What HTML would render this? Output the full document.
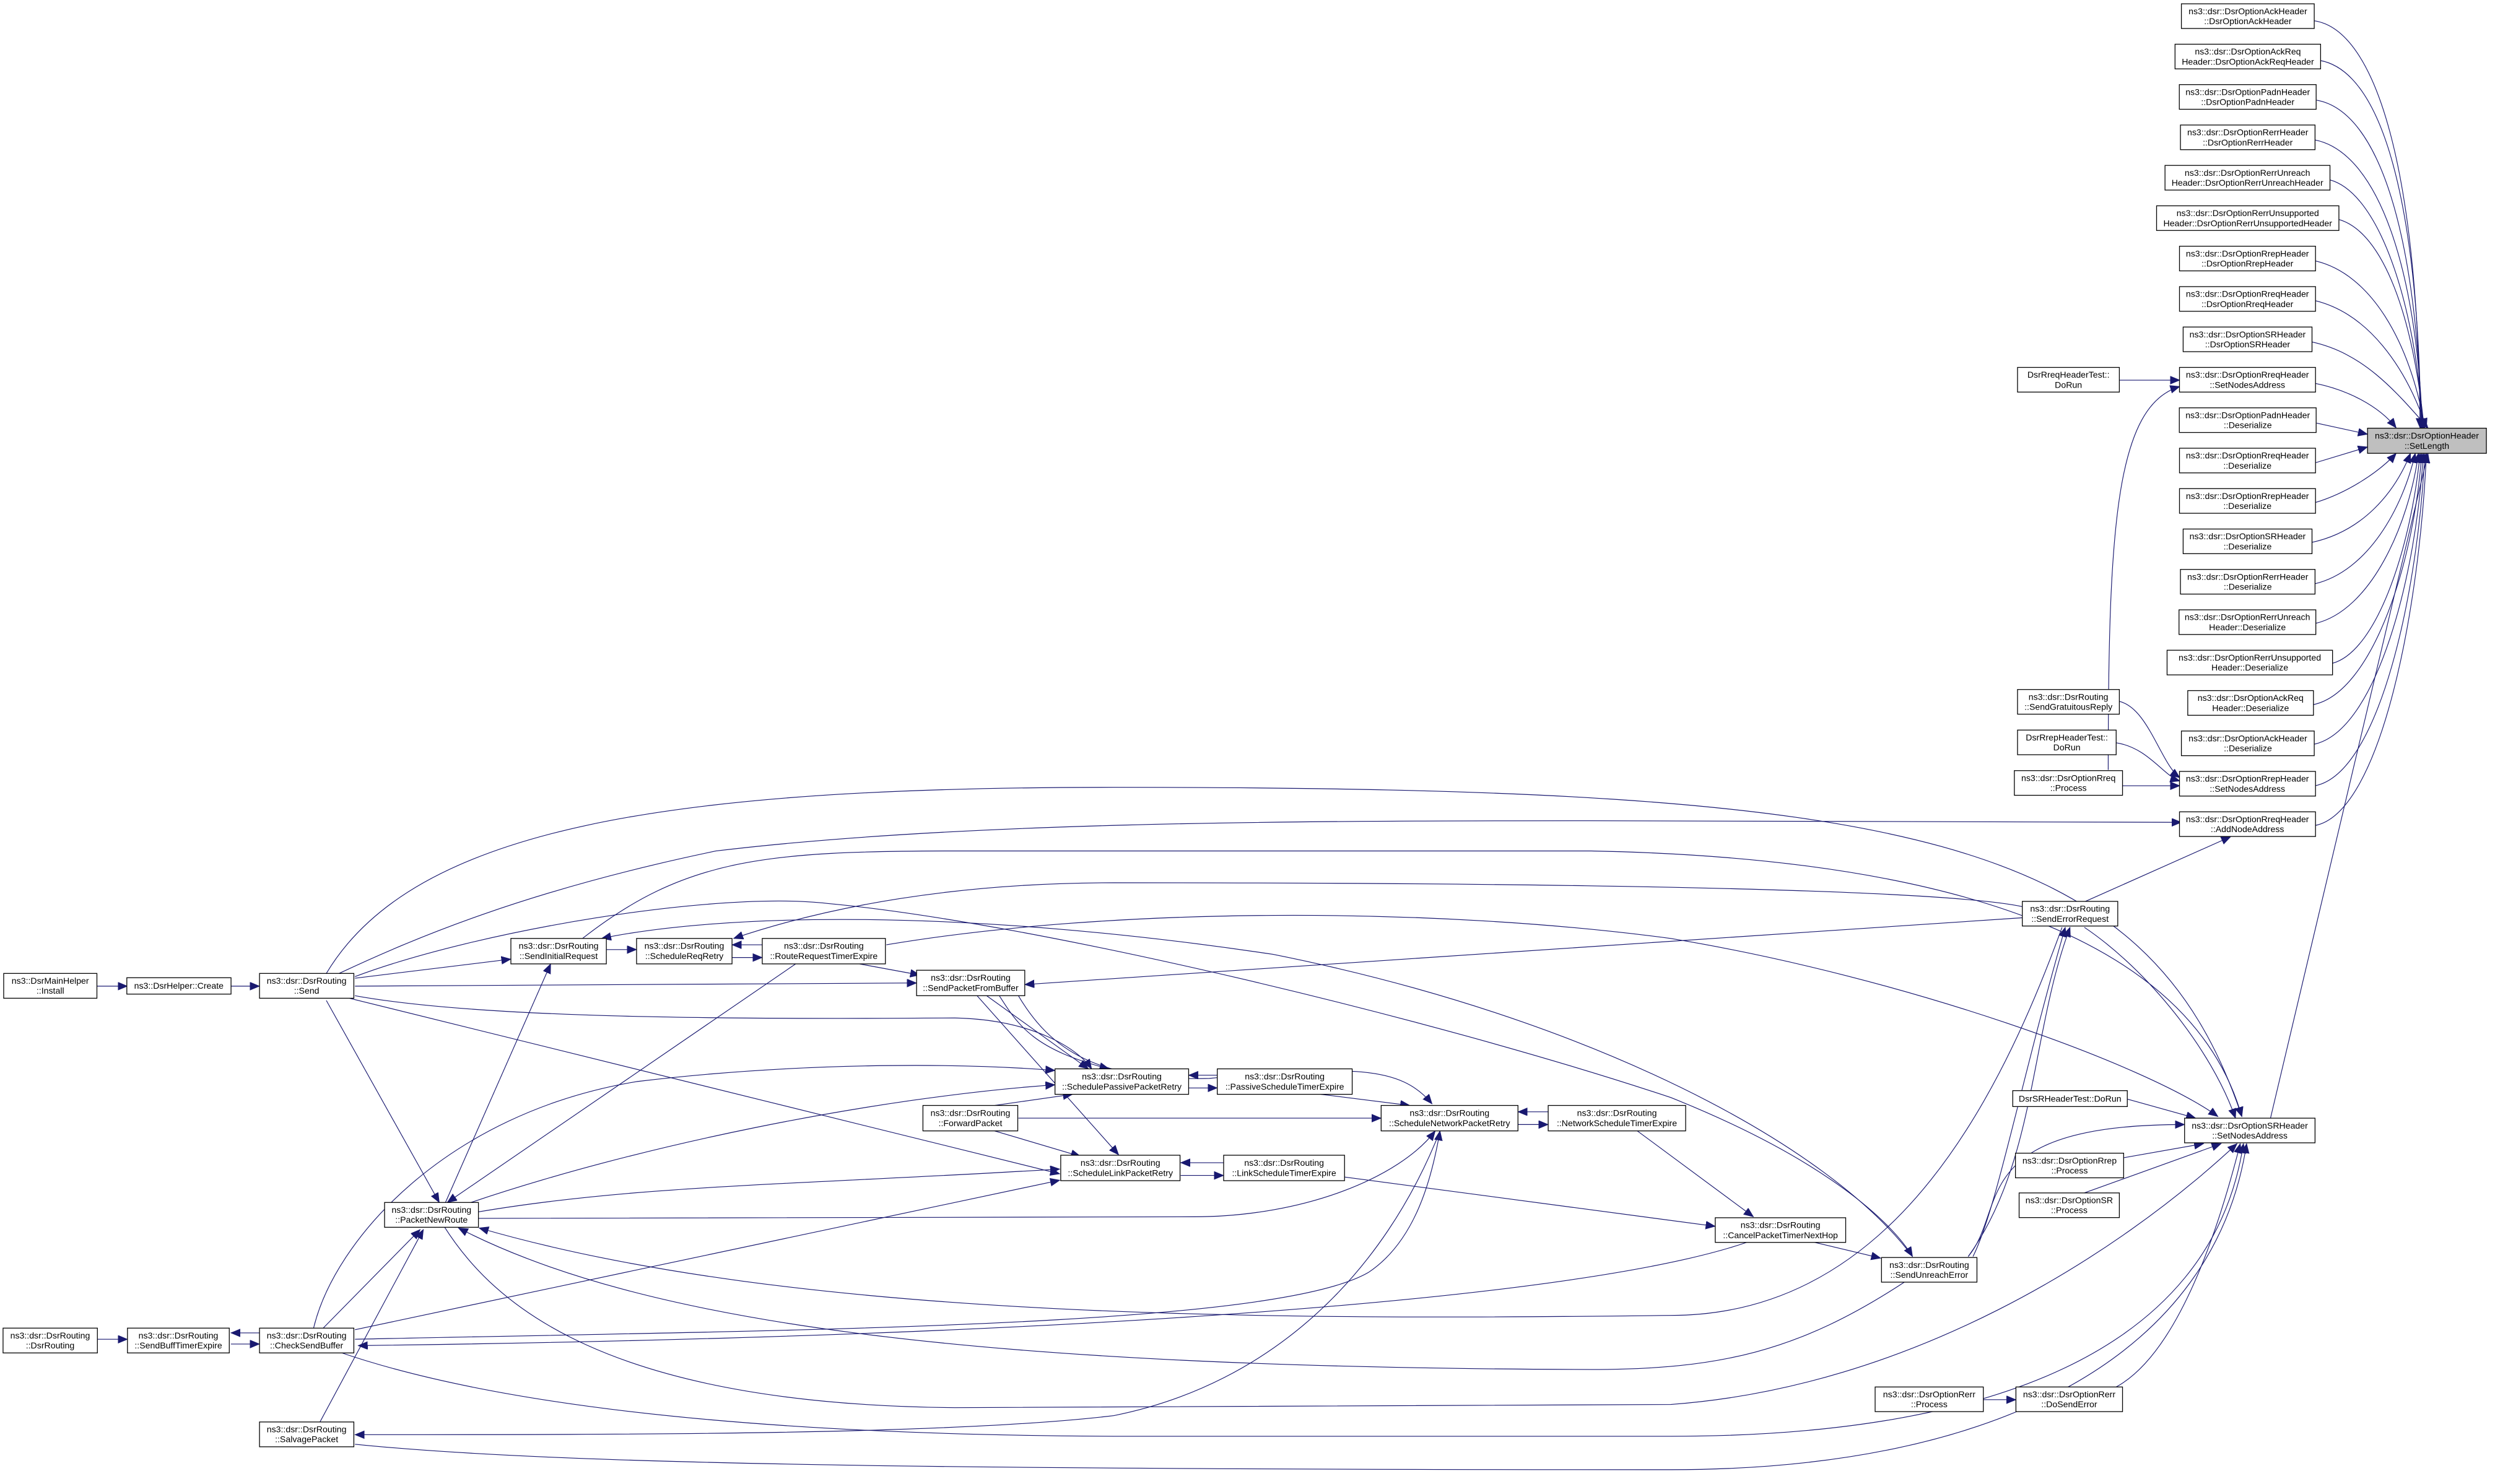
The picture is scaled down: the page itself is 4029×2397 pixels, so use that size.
<!DOCTYPE html>
<html><head><meta charset="utf-8"><style>
html,body{margin:0;padding:0;background:#fff}
svg{display:block}
text{font-family:"Liberation Sans",sans-serif;font-size:5.5px;text-anchor:middle;fill:#000}
.n rect{fill:#fff;stroke:#000;stroke-width:0.5}
.e{fill:none;stroke:#191970;stroke-width:0.45}
</style></head><body>
<svg width="4029" height="2397" viewBox="0 0 1568 933" xmlns="http://www.w3.org/2000/svg">
<defs><marker id="a" markerUnits="userSpaceOnUse" markerWidth="8" markerHeight="6" refX="6" refY="2.5" orient="auto"><path d="M0,0 L6,2.5 L0,5 z" fill="#191970" stroke="#191970" stroke-width="0.3"/></marker></defs>
<g class="e" marker-end="url(#a)">
<!-- to SetLength -->
<path d="M1454,13 C1494,18 1520,110 1521,269"/>
<path d="M1458,38 C1498,45 1520,130 1521.5,269"/>
<path d="M1456,63 C1496,70 1519,150 1522,269"/>
<path d="M1455,88 C1495,96 1519,170 1522.5,269"/>
<path d="M1464,113 C1495,121 1518,190 1523,269"/>
<path d="M1470,138 C1498,146 1517,200 1523.5,269"/>
<path d="M1455,164 C1490,172 1515,215 1524,269"/>
<path d="M1455,189 C1488,197 1512,230 1525,269"/>
<path d="M1453,215 C1485,222 1505,245 1526,269"/>
<path d="M1455,241 C1475,245 1495,255 1506,269"/>
<path d="M1456,266 L1488,273"/>
<path d="M1455,291 L1488,281"/>
<path d="M1455,316 C1475,310 1495,297 1506,285"/>
<path d="M1453,341 C1485,334 1505,310 1515,285"/>
<path d="M1455,367 C1488,359 1510,320 1518,285"/>
<path d="M1455,392 C1490,384 1514,330 1520,285"/>
<path d="M1466,417 C1495,409 1516,340 1521,285"/>
<path d="M1454,443 C1492,435 1518,350 1522,285"/>
<path d="M1454,468 C1494,460 1519,360 1523,285"/>
<path d="M1455,494 C1496,486 1520,370 1524,285"/>
<path d="M1455,519 C1497,511 1521,380 1525,285"/>
<path d="M1427,703 L1526,285"/>
<!-- R10 / R20 / R21 -->
<path d="M1332,239 L1370,239"/>
<path d="M1325,484 C1325,330 1330,255 1370,243"/>
<path d="M1332,441 C1350,445 1358,480 1370,489"/>
<path d="M1330,467 C1350,470 1360,488 1370,491"/>
<path d="M1334,494 L1370,494"/>
<path d="M1310,567 L1402,526"/>
<!-- SR SetNodesAddress arrivals -->
<path d="M1310,583 C1350,610 1390,660 1405,703"/>
<path d="M1337,691 L1380,703"/>
<path d="M1334,728 L1385,719"/>
<path d="M1310,750 L1396,719"/>
<path d="M1330,872 C1370,850 1395,770 1408,719"/>
<path d="M1237,790 C1262,760 1235,707 1373,707"/>
<path d="M205,612 C260,520 420,495 700,495 C1200,495 1350,525 1409,702"/>
<path d="M557,594 C700,570 900,570 1050,590 C1200,615 1350,670 1394,702"/>
<path d="M279,771 C310,820 380,883 600,885 L1050,883 C1200,872 1330,790 1406,719"/>
<path d="M213,850 C300,880 450,902 700,903 L1050,903 C1250,903 1390,850 1410,719"/>
<path d="M223,908 C350,921 600,924 1050,924 C1260,924 1392,850 1412,719"/>
<!-- Rerr -->
<path d="M1246,880 L1267,880"/>
<!-- SendErrorRequest -->
<path d="M1240,790 C1255,760 1270,680 1298,583"/>
<path d="M1237,790 C1280,730 1276,650 1301,583"/>
<path d="M1271,577 L644,619"/>
<path d="M1271,570 C1200,555 800,555 700,555 C600,555 520,570 461,590"/>
<path d="M1202,790 C1150,720 1000,640 800,600 C600,570 450,575 378,590"/>
<path d="M213,612 C260,590 330,560 450,535 C600,517 800,516 1000,516 L1371,517"/>
<path d="M223,614 C300,585 450,560 520,568 C650,580 900,640 1050,690 C1150,730 1190,770 1202,790"/>
<!-- left chain -->
<path d="M61,620 L80,620"/>
<path d="M145,620 L163,620"/>
<path d="M223,615 L321,603"/>
<path d="M223,620 L576,618"/>
<path d="M205,629 L276,756"/>
<path d="M213,626 L666,738"/>
<path d="M223,626 C300,640 450,641 600,640 C650,641 678,660 686,672"/>
<path d="M279,758 L346,606"/>
<path d="M381,597 L400,597"/>
<path d="M479,594 L460,594"/>
<path d="M460,602 L479,602"/>
<path d="M540,606 L578,613"/>
<path d="M500,606 L281,756"/>
<path d="M620,626 L684,672"/>
<path d="M628,626 C640,645 650,660 697,672"/>
<path d="M614,626 L703,726"/>
<path d="M640,626 C660,660 690,680 760,678 C850,670 880,670 900,694"/>
<path d="M765,676 L747,676"/>
<path d="M747,684 L765,684"/>
<path d="M830,688 L886,695"/>
<path d="M973,699 L954,699"/>
<path d="M954,707 L973,707"/>
<path d="M640,703 L868,703"/>
<path d="M625,695 L674,688"/>
<path d="M625,711 L679,727"/>
<path d="M769,731 L742,731"/>
<path d="M742,739 L769,739"/>
<path d="M845,740 L1078,771"/>
<path d="M1029,711 L1102,765"/>
<path d="M1140,781 L1182,791"/>
<path d="M1098,781 C1000,815 700,840 225,846"/>
<path d="M300,766 L750,765 C820,765 880,740 902,711"/>
<path d="M223,842 C500,836 800,835 860,800 C890,780 900,740 905,711"/>
<path d="M905,711 C870,800 800,870 700,890 C600,902 400,902 223,902"/>
<path d="M223,836 L666,742"/>
<path d="M197,835 C210,780 280,700 400,680 C500,668 600,668 663,673"/>
<path d="M290,758 C400,720 550,690 663,682"/>
<path d="M300,762 C400,745 500,745 666,735"/>
<path d="M203,835 L264,773"/>
<path d="M201,894 L266,773"/>
<path d="M1296,583 C1250,710 1180,827 1050,827 C800,830 500,830 301,772"/>
<path d="M1197,806 C1130,850 1080,861 1000,861 C600,860 400,830 288,772"/>
<path d="M163,838 L145,838"/>
<path d="M145,845 L163,845"/>
<path d="M61,842 L80,842"/>
<path d="M366,590 C430,540 480,535 600,535 L1000,535 C1250,540 1380,600 1409,702"/>
</g>
<g class="n">
<rect x="1371" y="2.4" width="83.5" height="15.5"/><text x="1412.8" y="8.9">ns3::dsr::DsrOptionAckHeader</text><text x="1412.8" y="15.2">::DsrOptionAckHeader</text>
<rect x="1367" y="27.8" width="91.5" height="15.5"/><text x="1412.8" y="34.3">ns3::dsr::DsrOptionAckReq</text><text x="1412.8" y="40.6">Header::DsrOptionAckReqHeader</text>
<rect x="1369.7" y="53.2" width="86" height="15.5"/><text x="1412.7" y="59.7">ns3::dsr::DsrOptionPadnHeader</text><text x="1412.7" y="66">::DsrOptionPadnHeader</text>
<rect x="1370.4" y="78.6" width="84.6" height="15.5"/><text x="1412.7" y="85.1">ns3::dsr::DsrOptionRerrHeader</text><text x="1412.7" y="91.4">::DsrOptionRerrHeader</text>
<rect x="1360.7" y="104" width="103.7" height="15.5"/><text x="1412.5" y="110.5">ns3::dsr::DsrOptionRerrUnreach</text><text x="1412.5" y="116.8">Header::DsrOptionRerrUnreachHeader</text>
<rect x="1355.4" y="129.4" width="114.6" height="15.5"/><text x="1412.7" y="135.9">ns3::dsr::DsrOptionRerrUnsupported</text><text x="1412.7" y="142.2">Header::DsrOptionRerrUnsupportedHeader</text>
<rect x="1369.8" y="154.8" width="85.5" height="15.5"/><text x="1412.5" y="161.3">ns3::dsr::DsrOptionRrepHeader</text><text x="1412.5" y="167.6">::DsrOptionRrepHeader</text>
<rect x="1369.8" y="180.2" width="85.5" height="15.5"/><text x="1412.5" y="186.7">ns3::dsr::DsrOptionRreqHeader</text><text x="1412.5" y="193">::DsrOptionRreqHeader</text>
<rect x="1372.1" y="205.6" width="81" height="15.5"/><text x="1412.6" y="212.1">ns3::dsr::DsrOptionSRHeader</text><text x="1412.6" y="218.4">::DsrOptionSRHeader</text>
<rect x="1369.8" y="231" width="85.5" height="15.5"/><text x="1412.5" y="237.5">ns3::dsr::DsrOptionRreqHeader</text><text x="1412.5" y="243.8">::SetNodesAddress</text>
<rect x="1369.7" y="256.4" width="86" height="15.5"/><text x="1412.7" y="262.9">ns3::dsr::DsrOptionPadnHeader</text><text x="1412.7" y="269.2">::Deserialize</text>
<rect x="1369.8" y="281.8" width="85.5" height="15.5"/><text x="1412.5" y="288.3">ns3::dsr::DsrOptionRreqHeader</text><text x="1412.5" y="294.6">::Deserialize</text>
<rect x="1369.8" y="307.2" width="85.5" height="15.5"/><text x="1412.5" y="313.7">ns3::dsr::DsrOptionRrepHeader</text><text x="1412.5" y="320">::Deserialize</text>
<rect x="1372.1" y="332.6" width="81" height="15.5"/><text x="1412.6" y="339.1">ns3::dsr::DsrOptionSRHeader</text><text x="1412.6" y="345.4">::Deserialize</text>
<rect x="1370.4" y="358" width="84.6" height="15.5"/><text x="1412.7" y="364.5">ns3::dsr::DsrOptionRerrHeader</text><text x="1412.7" y="370.8">::Deserialize</text>
<rect x="1369.5" y="383.4" width="86" height="15.5"/><text x="1412.5" y="389.9">ns3::dsr::DsrOptionRerrUnreach</text><text x="1412.5" y="396.2">Header::Deserialize</text>
<rect x="1362" y="408.8" width="104" height="15.5"/><text x="1414" y="415.3">ns3::dsr::DsrOptionRerrUnsupported</text><text x="1414" y="421.6">Header::Deserialize</text>
<rect x="1375" y="434.2" width="79" height="15.5"/><text x="1414.5" y="440.7">ns3::dsr::DsrOptionAckReq</text><text x="1414.5" y="447">Header::Deserialize</text>
<rect x="1371" y="459.6" width="83.5" height="15.5"/><text x="1412.8" y="466.1">ns3::dsr::DsrOptionAckHeader</text><text x="1412.8" y="472.4">::Deserialize</text>
<rect x="1369.8" y="485" width="85.5" height="15.5"/><text x="1412.5" y="491.5">ns3::dsr::DsrOptionRrepHeader</text><text x="1412.5" y="497.8">::SetNodesAddress</text>
<rect x="1369.8" y="510.4" width="85.5" height="15.5"/><text x="1412.5" y="516.9">ns3::dsr::DsrOptionRreqHeader</text><text x="1412.5" y="523.2">::AddNodeAddress</text>
<rect x="1488" y="269.2" width="74.7" height="15.8" style="fill:#bfbfbf"/><text x="1525.3" y="275.8">ns3::dsr::DsrOptionHeader</text><text x="1525.3" y="282.1">::SetLength</text>
<rect x="1373" y="703" width="82" height="15.5"/><text x="1414" y="709.5">ns3::dsr::DsrOptionSRHeader</text><text x="1414" y="715.8">::SetNodesAddress</text>

<rect x="1268" y="231" width="64" height="15.5"/><text x="1300" y="237.5">DsrRreqHeaderTest::</text><text x="1300" y="243.8">DoRun</text>
<rect x="1268" y="433.5" width="64" height="15.5"/><text x="1300" y="440">ns3::dsr::DsrRouting</text><text x="1300" y="446.3">::SendGratuitousReply</text>
<rect x="1268" y="459" width="62" height="15.5"/><text x="1299" y="465.5">DsrRrepHeaderTest::</text><text x="1299" y="471.8">DoRun</text>
<rect x="1266" y="484.5" width="68" height="15.5"/><text x="1300" y="491">ns3::dsr::DsrOptionRreq</text><text x="1300" y="497.3">::Process</text>
<rect x="1271" y="566.7" width="60" height="15.5"/><text x="1301" y="573.2">ns3::dsr::DsrRouting</text><text x="1301" y="579.5">::SendErrorRequest</text>
<rect x="1265" y="685.7" width="72" height="10"/><text x="1301" y="692.6">DsrSRHeaderTest::DoRun</text>
<rect x="1266.7" y="725" width="68" height="15.5"/><text x="1300.7" y="731.5">ns3::dsr::DsrOptionRrep</text><text x="1300.7" y="737.8">::Process</text>
<rect x="1269" y="750" width="63" height="15.5"/><text x="1300.5" y="756.5">ns3::dsr::DsrOptionSR</text><text x="1300.5" y="762.8">::Process</text>
<rect x="1178.5" y="872" width="68" height="15.5"/><text x="1212.5" y="878.5">ns3::dsr::DsrOptionRerr</text><text x="1212.5" y="884.8">::Process</text>
<rect x="1267" y="872" width="67" height="15.5"/><text x="1300.5" y="878.5">ns3::dsr::DsrOptionRerr</text><text x="1300.5" y="884.8">::DoSendError</text>
<rect x="1078" y="765.6" width="82" height="15.5"/><text x="1119" y="772.1">ns3::dsr::DsrRouting</text><text x="1119" y="778.4">::CancelPacketTimerNextHop</text>
<rect x="1182.5" y="790.6" width="60" height="15.5"/><text x="1212.5" y="797.1">ns3::dsr::DsrRouting</text><text x="1212.5" y="803.4">::SendUnreachError</text>

<rect x="321" y="590" width="60" height="16"/><text x="351" y="596.6">ns3::dsr::DsrRouting</text><text x="351" y="603">::SendInitialRequest</text>
<rect x="400" y="590" width="60" height="16"/><text x="430" y="596.6">ns3::dsr::DsrRouting</text><text x="430" y="603">::ScheduleReqRetry</text>
<rect x="479" y="590" width="77.4" height="16"/><text x="517.7" y="596.6">ns3::dsr::DsrRouting</text><text x="517.7" y="603">::RouteRequestTimerExpire</text>
<rect x="576" y="610" width="68" height="16"/><text x="610" y="616.6">ns3::dsr::DsrRouting</text><text x="610" y="623">::SendPacketFromBuffer</text>
<rect x="663" y="672" width="84" height="16"/><text x="705" y="678.6">ns3::dsr::DsrRouting</text><text x="705" y="685">::SchedulePassivePacketRetry</text>
<rect x="765" y="672" width="84.8" height="16"/><text x="807.4" y="678.6">ns3::dsr::DsrRouting</text><text x="807.4" y="685">::PassiveScheduleTimerExpire</text>
<rect x="580" y="695" width="59.6" height="16"/><text x="609.8" y="701.6">ns3::dsr::DsrRouting</text><text x="609.8" y="708">::ForwardPacket</text>
<rect x="868" y="695" width="86" height="16"/><text x="911" y="701.6">ns3::dsr::DsrRouting</text><text x="911" y="708">::ScheduleNetworkPacketRetry</text>
<rect x="973" y="695" width="86.4" height="16"/><text x="1016.2" y="701.6">ns3::dsr::DsrRouting</text><text x="1016.2" y="708">::NetworkScheduleTimerExpire</text>
<rect x="666.6" y="726.3" width="75" height="16"/><text x="704.1" y="732.9">ns3::dsr::DsrRouting</text><text x="704.1" y="739.3">::ScheduleLinkPacketRetry</text>
<rect x="769" y="726.3" width="76" height="16"/><text x="807" y="732.9">ns3::dsr::DsrRouting</text><text x="807" y="739.3">::LinkScheduleTimerExpire</text>

<rect x="2.2" y="612" width="58.6" height="15.6"/><text x="31.5" y="618.5">ns3::DsrMainHelper</text><text x="31.5" y="624.8">::Install</text>
<rect x="79.6" y="614.7" width="65.5" height="10.3"/><text x="112.3" y="621.7">ns3::DsrHelper::Create</text>
<rect x="163" y="612" width="59.3" height="15.6"/><text x="192.6" y="618.5">ns3::dsr::DsrRouting</text><text x="192.6" y="624.8">::Send</text>
<rect x="241.6" y="756" width="59" height="15.6"/><text x="271.1" y="762.5">ns3::dsr::DsrRouting</text><text x="271.1" y="768.8">::PacketNewRoute</text>
<rect x="1.8" y="835" width="59.3" height="15.6"/><text x="31.4" y="841.5">ns3::dsr::DsrRouting</text><text x="31.4" y="847.8">::DsrRouting</text>
<rect x="80" y="835" width="64" height="15.6"/><text x="112" y="841.5">ns3::dsr::DsrRouting</text><text x="112" y="847.8">::SendBuffTimerExpire</text>
<rect x="163" y="835" width="59.3" height="15.6"/><text x="192.6" y="841.5">ns3::dsr::DsrRouting</text><text x="192.6" y="847.8">::CheckSendBuffer</text>
<rect x="163" y="894" width="59.3" height="15.6"/><text x="192.6" y="900.5">ns3::dsr::DsrRouting</text><text x="192.6" y="906.8">::SalvagePacket</text>
</g>
</svg>
</body></html>
